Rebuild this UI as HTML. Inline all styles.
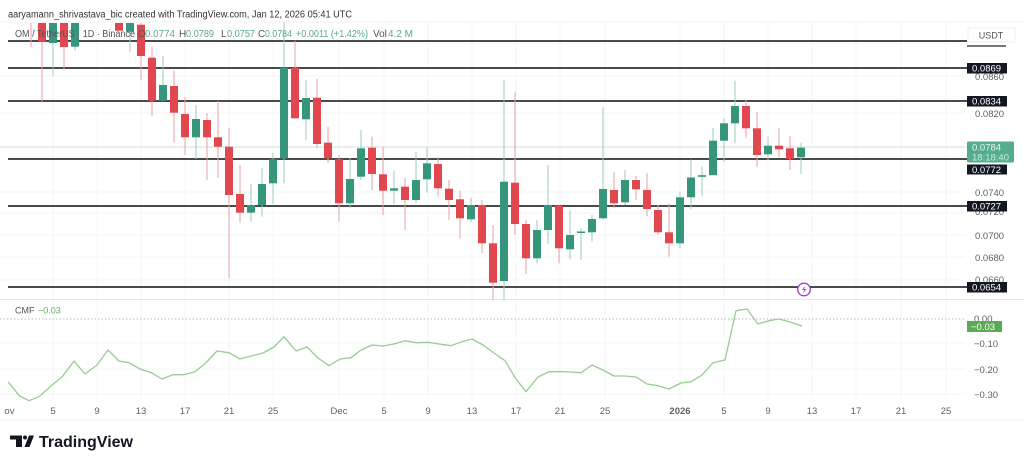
<!DOCTYPE html>
<html><head><meta charset="utf-8"><style>
html,body{margin:0;padding:0;background:#fff;}
svg{display:block;font-family:"Liberation Sans",sans-serif;}
.wr{stroke:#e9a2a5;stroke-width:1}
.wg{stroke:#9ccbbd;stroke-width:1}
.br{fill:#e1474e}
.bg{fill:#36967b}
.lv{stroke:#4a4a4a;stroke-width:2}
.ax{font-size:9.5px;fill:#5d6068}
.bx{fill:#131722}
.bt{font-size:9.5px;fill:#fff}
.xl{font-size:9.5px;fill:#5d6068;text-anchor:middle}
.gd{stroke:#f3f4f5;stroke-width:1}
</style></head><body>
<svg width="1024" height="461" viewBox="0 0 1024 461" xmlns="http://www.w3.org/2000/svg">
<rect width="1024" height="461" fill="#fff"/>
<!-- grid -->
<g class="gd">
<line x1="53" y1="22" x2="53" y2="398"/><line x1="97" y1="22" x2="97" y2="398"/><line x1="141" y1="22" x2="141" y2="398"/><line x1="185" y1="22" x2="185" y2="398"/><line x1="229" y1="22" x2="229" y2="398"/><line x1="273" y1="22" x2="273" y2="398"/><line x1="339" y1="22" x2="339" y2="398"/><line x1="384" y1="22" x2="384" y2="398"/><line x1="428" y1="22" x2="428" y2="398"/><line x1="472" y1="22" x2="472" y2="398"/><line x1="516" y1="22" x2="516" y2="398"/><line x1="560" y1="22" x2="560" y2="398"/><line x1="605" y1="22" x2="605" y2="398"/><line x1="680" y1="22" x2="680" y2="398"/><line x1="724" y1="22" x2="724" y2="398"/><line x1="768" y1="22" x2="768" y2="398"/><line x1="812" y1="22" x2="812" y2="398"/><line x1="856" y1="22" x2="856" y2="398"/><line x1="901" y1="22" x2="901" y2="398"/><line x1="946" y1="22" x2="946" y2="398"/>
<line x1="0" y1="76" x2="965" y2="76"/><line x1="0" y1="113" x2="965" y2="113"/><line x1="0" y1="192" x2="965" y2="192"/><line x1="0" y1="213" x2="965" y2="213"/><line x1="0" y1="235" x2="965" y2="235"/><line x1="0" y1="257" x2="965" y2="257"/><line x1="0" y1="280" x2="965" y2="280"/>
<line x1="0" y1="343" x2="965" y2="343"/><line x1="0" y1="369" x2="965" y2="369"/><line x1="0" y1="394" x2="965" y2="394"/>
</g>
<line x1="0" y1="22" x2="1024" y2="22" stroke="#f0f0f0"/>
<line x1="0" y1="299.5" x2="1024" y2="299.5" stroke="#e8e8e8"/>
<line x1="0" y1="420" x2="1024" y2="420" stroke="#efefef"/>
<!-- current price line -->
<line x1="0" y1="147" x2="967" y2="147" stroke="#d3dcd9" stroke-width="1"/>

<!-- level lines -->
<g class="lv">
<line x1="8" y1="41" x2="967" y2="41"/>
<line x1="8" y1="68" x2="967" y2="68"/>
<line x1="8" y1="101" x2="967" y2="101"/>
<line x1="8" y1="159" x2="967" y2="159"/>
<line x1="8" y1="206" x2="967" y2="206"/>
<line x1="8" y1="287" x2="967" y2="287"/>
</g>

<g clip-path="url(#cp)">
<clipPath id="cp"><rect x="0" y="23" width="966" height="277"/></clipPath>
<!-- wicks -->
<g class="wr">
<line x1="31" y1="23" x2="31" y2="47"/><line x1="42" y1="23" x2="42" y2="102.7"/><line x1="64" y1="23" x2="64" y2="70"/><line x1="141" y1="23" x2="141" y2="80"/><line x1="152" y1="46.7" x2="152" y2="116"/><line x1="174" y1="70.7" x2="174" y2="142.7"/><line x1="185" y1="97" x2="185" y2="155"/><line x1="207" y1="113" x2="207" y2="180"/><line x1="218" y1="101" x2="218" y2="178"/><line x1="229" y1="128" x2="229" y2="278"/><line x1="240" y1="165" x2="240" y2="222.7"/><line x1="295" y1="40.7" x2="295" y2="118.3"/><line x1="317" y1="79" x2="317" y2="148"/><line x1="328" y1="127" x2="328" y2="163"/><line x1="339" y1="155" x2="339" y2="221.7"/><line x1="372" y1="136.7" x2="372" y2="190"/><line x1="383" y1="146.7" x2="383" y2="215"/><line x1="405" y1="178" x2="405" y2="230"/><line x1="438" y1="156.7" x2="438" y2="196.7"/><line x1="449" y1="180" x2="449" y2="220"/><line x1="460" y1="190.7" x2="460" y2="238.3"/><line x1="482" y1="200" x2="482" y2="253"/><line x1="493" y1="225" x2="493" y2="300"/><line x1="515" y1="91.7" x2="515" y2="235"/><line x1="526" y1="220" x2="526" y2="274"/><line x1="559" y1="205" x2="559" y2="263.3"/><line x1="614" y1="171.7" x2="614" y2="208.3"/><line x1="636" y1="176" x2="636" y2="200"/><line x1="647" y1="173.3" x2="647" y2="216"/><line x1="658" y1="205" x2="658" y2="235"/><line x1="669" y1="203.3" x2="669" y2="256.7"/><line x1="746" y1="100" x2="746" y2="138.3"/><line x1="757" y1="111.7" x2="757" y2="166.7"/><line x1="779" y1="128.3" x2="779" y2="156.7"/><line x1="790" y1="136" x2="790" y2="170"/>
</g>
<g class="wg">
<line x1="53" y1="23" x2="53" y2="76"/><line x1="75" y1="23" x2="75" y2="50.7"/><line x1="130" y1="23" x2="130" y2="51.7"/><line x1="163" y1="56" x2="163" y2="100.7"/><line x1="196" y1="105" x2="196" y2="159"/><line x1="251" y1="184" x2="251" y2="221.7"/><line x1="262" y1="168" x2="262" y2="216.7"/><line x1="273" y1="152.7" x2="273" y2="204.3"/><line x1="284" y1="23" x2="284" y2="183.3"/><line x1="306" y1="80" x2="306" y2="140"/><line x1="350" y1="158" x2="350" y2="208"/><line x1="361" y1="130" x2="361" y2="180"/><line x1="394" y1="170.7" x2="394" y2="204"/><line x1="416" y1="151.7" x2="416" y2="202.7"/><line x1="427" y1="147.3" x2="427" y2="192.7"/><line x1="471" y1="198" x2="471" y2="222"/><line x1="504" y1="80" x2="504" y2="300"/><line x1="537" y1="220" x2="537" y2="263.3"/><line x1="548" y1="165" x2="548" y2="244"/><line x1="570" y1="210.7" x2="570" y2="259.3"/><line x1="581" y1="228.3" x2="581" y2="260"/><line x1="592" y1="215" x2="592" y2="241.7"/><line x1="603" y1="107.3" x2="603" y2="220"/><line x1="625" y1="170" x2="625" y2="205"/><line x1="680" y1="191.7" x2="680" y2="248.3"/><line x1="691" y1="159.5" x2="691" y2="209.3"/><line x1="702" y1="166.7" x2="702" y2="195.5"/><line x1="713" y1="127.8" x2="713" y2="175.2"/><line x1="724" y1="118.3" x2="724" y2="161.7"/><line x1="735" y1="80.7" x2="735" y2="143.3"/><line x1="768" y1="136.7" x2="768" y2="160"/><line x1="801" y1="142.7" x2="801" y2="174"/>
</g>
<!-- bodies -->
<g class="br">
<rect x="38" y="23" width="8" height="18.7"/><rect x="60" y="23" width="8" height="24"/><rect x="115" y="23" width="8" height="7.7"/><rect x="137" y="24.7" width="8" height="31.3"/><rect x="148" y="57.7" width="8" height="43"/><rect x="170" y="86" width="8" height="26.7"/><rect x="181" y="114" width="8" height="23.3"/><rect x="203" y="120" width="8" height="17.3"/><rect x="214" y="137.3" width="8" height="9.4"/><rect x="225" y="146.7" width="8" height="48.3"/><rect x="236" y="194" width="8" height="18.7"/><rect x="291" y="67.7" width="8" height="50.6"/><rect x="313" y="97.7" width="8" height="46.3"/><rect x="324" y="142.7" width="8" height="15.6"/><rect x="335" y="159.3" width="8" height="44"/><rect x="368" y="147.7" width="8" height="26.3"/><rect x="379" y="174.3" width="8" height="16.4"/><rect x="401" y="186.7" width="8" height="13.3"/><rect x="434" y="164" width="8" height="24.3"/><rect x="445" y="188.7" width="8" height="11.3"/><rect x="456" y="199.3" width="8" height="19"/><rect x="478" y="205" width="8" height="38.3"/><rect x="489" y="243.3" width="8" height="39.4"/><rect x="511" y="182.7" width="8" height="41.3"/><rect x="522" y="224" width="8" height="34.3"/><rect x="555" y="205.7" width="8" height="42.6"/><rect x="610" y="190" width="8" height="13.3"/><rect x="632" y="180" width="8" height="9.3"/><rect x="643" y="190" width="8" height="19"/><rect x="654" y="210" width="8" height="22.3"/><rect x="665" y="232.3" width="8" height="11"/><rect x="742" y="106" width="8" height="22.3"/><rect x="753" y="128.3" width="8" height="26.7"/><rect x="775" y="145.7" width="8" height="3.6"/><rect x="786" y="148.3" width="8" height="10.7"/>
</g>
<g class="bg">
<rect x="49" y="23" width="8" height="20"/><rect x="71" y="23" width="8" height="23.7"/><rect x="126" y="23" width="8" height="8.7"/><rect x="159" y="85" width="8" height="15.7"/><rect x="192" y="119" width="8" height="18.3"/><rect x="247" y="205" width="8" height="7.7"/><rect x="258" y="184" width="8" height="21"/><rect x="269" y="159.3" width="8" height="24"/><rect x="280" y="67.7" width="8" height="90.6"/><rect x="302" y="98" width="8" height="21.3"/><rect x="346" y="179" width="8" height="24.3"/><rect x="357" y="148.3" width="8" height="28.4"/><rect x="390" y="188.3" width="8" height="2.4"/><rect x="412" y="180" width="8" height="20"/><rect x="423" y="163.3" width="8" height="16"/><rect x="467" y="205" width="8" height="14.3"/><rect x="500" y="181.7" width="8" height="99.3"/><rect x="533" y="230" width="8" height="28.3"/><rect x="544" y="205" width="8" height="25"/><rect x="566" y="235" width="8" height="14.3"/><rect x="577" y="231.5" width="8" height="1.5"/><rect x="588" y="219" width="8" height="13.3"/><rect x="599" y="189" width="8" height="29.3"/><rect x="621" y="180" width="8" height="22.3"/><rect x="676" y="197.3" width="8" height="46"/><rect x="687" y="177.5" width="8" height="19.8"/><rect x="698" y="175.2" width="8" height="1.6"/><rect x="709" y="140.7" width="8" height="34.5"/><rect x="720" y="123.3" width="8" height="17.4"/><rect x="731" y="106" width="8" height="17.3"/><rect x="764" y="145.7" width="8" height="8.6"/><rect x="797" y="147.7" width="8" height="9.6"/>
</g>
</g>

<!-- header -->
<text x="8" y="17.5" font-size="10" fill="#333" textLength="344" lengthAdjust="spacingAndGlyphs">aaryamann_shrivastava_bic created with TradingView.com, Jan 12, 2026 05:41 UTC</text>
<g font-size="10">
<text x="15" y="37" fill="#555" textLength="120" lengthAdjust="spacingAndGlyphs">OM / TetherUS · 1D · Binance</text>
<text x="138" y="37" fill="#555">O</text><text x="145" y="37" fill="#5aa88f" textLength="30" lengthAdjust="spacingAndGlyphs">0.0774</text>
<text x="179" y="37" fill="#555">H</text><text x="186" y="37" fill="#5aa88f" textLength="28" lengthAdjust="spacingAndGlyphs">0.0789</text>
<text x="221" y="37" fill="#555">L</text><text x="227" y="37" fill="#5aa88f" textLength="28" lengthAdjust="spacingAndGlyphs">0.0757</text>
<text x="258" y="37" fill="#555">C</text><text x="265" y="37" fill="#5aa88f" textLength="27" lengthAdjust="spacingAndGlyphs">0.0784</text>
<text x="296" y="37" fill="#5aa88f" textLength="72" lengthAdjust="spacingAndGlyphs">+0.0011 (+1.42%)</text>
<text x="373" y="37" fill="#555">Vol</text><text x="388" y="37" fill="#5aa88f">4.2 M</text>
</g>

<!-- right axis -->
<rect x="968" y="28" width="47" height="14" fill="#fff" stroke="#eee"/>
<text x="991" y="38.5" font-size="9" fill="#555" text-anchor="middle">USDT</text>
<line x1="967" y1="46" x2="1006" y2="46" stroke="#4a4a4a" stroke-width="1.5"/>
<text class="ax" x="975" y="80">0.0860</text>
<text class="ax" x="975" y="117">0.0820</text>
<text class="ax" x="975" y="196">0.0740</text>
<text class="ax" x="975" y="215">0.0720</text>
<text class="ax" x="975" y="239">0.0700</text>
<text class="ax" x="975" y="261">0.0680</text>
<text class="ax" x="975" y="283">0.0660</text>
<rect class="bx" x="967" y="63" width="40" height="10.5"/><text class="bt" x="972" y="71.5">0.0869</text>
<rect class="bx" x="967" y="96" width="40" height="10.5"/><text class="bt" x="972" y="104.5">0.0834</text>
<rect x="967" y="141.5" width="47" height="21" rx="1.5" fill="#56ad8e"/>
<text x="972" y="150.5" font-size="9.5" fill="#e6f7f0">0.0784</text>
<text x="972" y="160.5" font-size="9.5" fill="#c9ebdf">18:18:40</text>
<rect class="bx" x="967" y="164.5" width="40" height="10"/><text class="bt" x="972" y="173">0.0772</text>
<rect class="bx" x="967" y="201" width="40" height="10.5"/><text class="bt" x="972" y="209.5">0.0727</text>
<rect class="bx" x="967" y="282" width="40" height="10.5"/><text class="bt" x="972" y="290.5">0.0654</text>

<!-- lightning marker -->
<circle cx="804" cy="289.5" r="6.3" fill="#fff" stroke="#9b3fc4" stroke-width="1.3"/>
<path d="M805.5 285.5 L802 290 L804.3 290 L802.7 293.5 L806.3 289 L804 289 Z" fill="#9b3fc4"/>

<!-- CMF pane -->
<text x="15" y="313.5" font-size="9" fill="#555">CMF</text>
<text x="38" y="313.5" font-size="9" fill="#5fae62">−0.03</text>
<line x1="0" y1="319" x2="966" y2="319" stroke="#b9b9b9" stroke-width="1" stroke-dasharray="1.5,2"/>
<polyline fill="none" stroke="#98cc92" stroke-width="1.3" stroke-linejoin="round" points="8,381.7 19.6,396 29,400.7 39,396.7 52,385 62,377 74,361 85,374 97,365 108,350 119,361 129,362.7 140,369 152,373 162,379 173,374.7 184,374.7 195,371.7 206,362.7 217,351 229,352.7 240,359 251,356 263,353 274,347 284,336.7 296,351 307,347 318,358 329,365.7 340,359 351,357.7 361,350 372,345 383,346 394,344 405,340.7 416,342.7 428,342.3 439,344 451,345.7 462,341.7 472,339 483,345 494,353 505,360.7 516,379 526,391.7 538,377 549,371.7 560,371.7 570,372 581,372.7 592,365 603,370 614,376 625,376 636,377 647,384 658,385.7 669,389 681,383 691,381.7 702,375 713,362.7 725,360 736,310.7 747,309 758,324 769,320.7 779,319 790,322 802,326"/>
<text class="ax" x="974" y="322">0.00</text>
<rect x="967" y="321" width="35" height="11" fill="#5aaa55"/>
<text x="971" y="329.8" font-size="9.5" fill="#fff">−0.03</text>
<text class="ax" x="974" y="347">−0.10</text>
<text class="ax" x="974" y="373">−0.20</text>
<text class="ax" x="974" y="398">−0.30</text>

<!-- x axis -->
<text class="xl" x="6" y="414">Nov</text>
<text class="xl" x="53" y="414">5</text><text class="xl" x="97" y="414">9</text><text class="xl" x="141" y="414">13</text><text class="xl" x="185" y="414">17</text><text class="xl" x="229" y="414">21</text><text class="xl" x="273" y="414">25</text>
<text class="xl" x="339" y="414">Dec</text>
<text class="xl" x="384" y="414">5</text><text class="xl" x="428" y="414">9</text><text class="xl" x="472" y="414">13</text><text class="xl" x="516" y="414">17</text><text class="xl" x="560" y="414">21</text><text class="xl" x="605" y="414">25</text>
<text class="xl" x="680" y="414" font-weight="bold" fill="#333">2026</text>
<text class="xl" x="724" y="414">5</text><text class="xl" x="768" y="414">9</text><text class="xl" x="812" y="414">13</text><text class="xl" x="856" y="414">17</text><text class="xl" x="901" y="414">21</text><text class="xl" x="946" y="414">25</text>
<rect x="0" y="398" width="4" height="20" fill="#fff"/>

<!-- logo -->
<g fill="#131722">
<rect x="10" y="435.5" width="12" height="4"/>
<rect x="16" y="435.5" width="6" height="11.5"/>
<circle cx="25" cy="437.5" r="2"/>
<polygon points="29,435.5 34,435.5 29.5,447 24.5,447"/>
</g>
<text x="39" y="447" font-size="16" font-weight="bold" fill="#131722" textLength="94" lengthAdjust="spacingAndGlyphs">TradingView</text>
</svg>
</body></html>
